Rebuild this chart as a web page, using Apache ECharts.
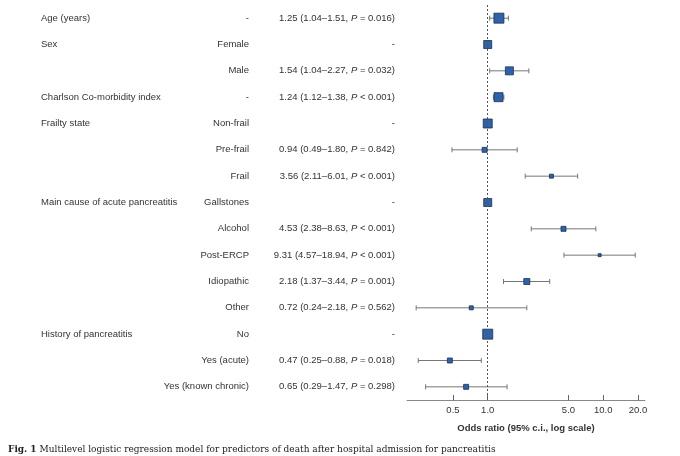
<!DOCTYPE html>
<html>
<head>
<meta charset="utf-8">
<script src="https://cdn.jsdelivr.net/npm/echarts@6/dist/echarts.min.js"></script>
<style>
  html, body { margin: 0; padding: 0; background: #fff; }
  #chart { width: 680px; height: 456px; }
</style>
</head>
<body>
<div id="chart"></div>
<script>
// one entry per row, top to bottom
var variables = ['Age (years)', 'Sex', '', 'Charlson Co-morbidity index', 'Frailty state', '', '',
  'Main cause of acute pancreatitis', '', '', '', '', 'History of pancreatitis', '', '']
var levels = ['-', 'Female', 'Male', '-', 'Non-frail', 'Pre-frail', 'Frail', 'Gallstones',
  'Alcohol', 'Post-ERCP', 'Idiopathic', 'Other', 'No', 'Yes (acute)', 'Yes (known chronic)']
var oddsRatio = [1.25, 1, 1.54, 1.24, 1, 0.94, 3.56, 1, 4.53, 9.31, 2.18, 0.72, 1, 0.47, 0.65]
var ciLow = [1.04, null, 1.04, 1.12, null, 0.49, 2.11, null, 2.38, 4.57, 1.37, 0.24, null, 0.25, 0.29]
var ciHigh = [1.51, null, 2.27, 1.38, null, 1.80, 6.01, null, 8.63, 18.94, 3.44, 2.18, null, 0.88, 1.47]
var pText = ['= 0.016', null, '= 0.032', '< 0.001', null, '= 0.842', '< 0.001', null,
  '< 0.001', '< 0.001', '= 0.001', '= 0.562', null, '= 0.018', '= 0.298']
// square size ~ weight of the estimate
var weight = [10, 8, 8, 9, 9, 5, 4, 8, 5, 3, 6, 4, 10, 5, 5]
var xTicks = [0.5, 1, 5, 10, 20]

var rowIds = oddsRatio.map(function (v, i) { return String(i) })

function fmt(v) { return v.toFixed(2) }

var orLabels = oddsRatio.map(function (v, i) {
  if (ciLow[i] == null) return '-'
  return fmt(v) + ' (' + fmt(ciLow[i]) + '\u2013' + fmt(ciHigh[i]) + ', {i|P} ' + pText[i] + ')'
})

var ciData = []
oddsRatio.forEach(function (v, i) {
  if (ciLow[i] != null) ciData.push([i, ciLow[i], ciHigh[i]])
})

var pointData = oddsRatio.map(function (v, i) {
  return { value: [v, i], symbolSize: weight[i] }
})

var textColor = '#333'
var font = 'Liberation Sans'
var fs = 9.5

var chart = echarts.init(document.getElementById('chart'))

var option = {
  animation: false,
  textStyle: { fontFamily: font },
  title: {
    left: 3,
    top: 440,
    text: '{b|Fig. 1} Multilevel logistic regression model for predictors of death after hospital admission for pancreatitis',
    textStyle: {
      fontFamily: 'DejaVu Serif', fontSize: 9, fontWeight: 'normal', color: '#222',
      rich: { b: { fontFamily: 'DejaVu Serif', fontSize: 9, fontWeight: 'bold', color: '#222' } }
    }
  },
  grid: { left: 407, right: 35, top: 5, bottom: 56 },
  xAxis: {
    type: 'log',
    logBase: 10,
    min: 0.2,
    max: 23,
    name: 'Odds ratio (95% c.i., log scale)',
    nameLocation: 'middle',
    nameGap: 23,
    nameTextStyle: { fontFamily: font, fontSize: fs, fontWeight: 'bold', color: textColor },
    axisLine: { show: true, onZero: false, lineStyle: { color: '#888', width: 1 } },
    axisTick: { show: true, inside: true, length: 5, customValues: xTicks, lineStyle: { color: '#666' } },
    axisLabel: {
      customValues: xTicks,
      margin: 5,
      fontSize: fs,
      color: textColor,
      formatter: function (v) { return Number(v).toFixed(1) }
    },
    splitLine: { show: false }
  },
  yAxis: [
    {
      type: 'category',
      inverse: true,
      data: rowIds,
      axisLine: { show: false },
      axisTick: { show: false },
      splitLine: { show: false },
      axisLabel: {
        interval: 0, margin: 12, fontSize: fs, color: textColor,
        formatter: function (v, i) { return orLabels[i] },
        rich: { i: { fontStyle: 'italic', fontSize: fs, color: textColor, fontFamily: font } }
      }
    },
    {
      type: 'category',
      inverse: true,
      position: 'left',
      offset: 150,
      data: rowIds,
      axisLine: { show: false },
      axisTick: { show: false },
      axisLabel: {
        interval: 0, margin: 8, fontSize: fs, color: textColor,
        formatter: function (v, i) { return levels[i] }
      }
    },
    {
      type: 'category',
      inverse: true,
      position: 'left',
      offset: 366,
      data: rowIds,
      axisLine: { show: false },
      axisTick: { show: false },
      axisLabel: {
        interval: 0, margin: 0, align: 'left', fontSize: fs, color: textColor,
        formatter: function (v, i) { return variables[i] }
      }
    }
  ],
  series: [
    {
      type: 'custom',
      z: 2,
      data: ciData,
      encode: { x: [1, 2], y: 0 },
      renderItem: function (params, api) {
        var row = api.value(0)
        var a = api.coord([api.value(1), row])
        var b = api.coord([api.value(2), row])
        var cap = 2.5
        var st = { stroke: '#777', lineWidth: 1 }
        return {
          type: 'group',
          children: [
            { type: 'line', shape: { x1: a[0], y1: a[1], x2: b[0], y2: b[1] }, style: st },
            { type: 'line', shape: { x1: a[0], y1: a[1] - cap, x2: a[0], y2: a[1] + cap }, style: st },
            { type: 'line', shape: { x1: b[0], y1: b[1] - cap, x2: b[0], y2: b[1] + cap }, style: st }
          ]
        }
      }
    },
    {
      type: 'scatter',
      z: 3,
      symbol: 'rect',
      data: pointData,
      itemStyle: { color: '#2f63a9', borderColor: '#1c2f52', borderWidth: 0.8, opacity: 1 },
      markLine: {
        silent: true,
        symbol: ['none', 'none'],
        label: { show: false },
        lineStyle: { type: [2, 2], color: '#555', width: 1 },
        data: [{ xAxis: 1 }]
      }
    }
  ]
}

chart.setOption(option)
</script>
</body>
</html>
